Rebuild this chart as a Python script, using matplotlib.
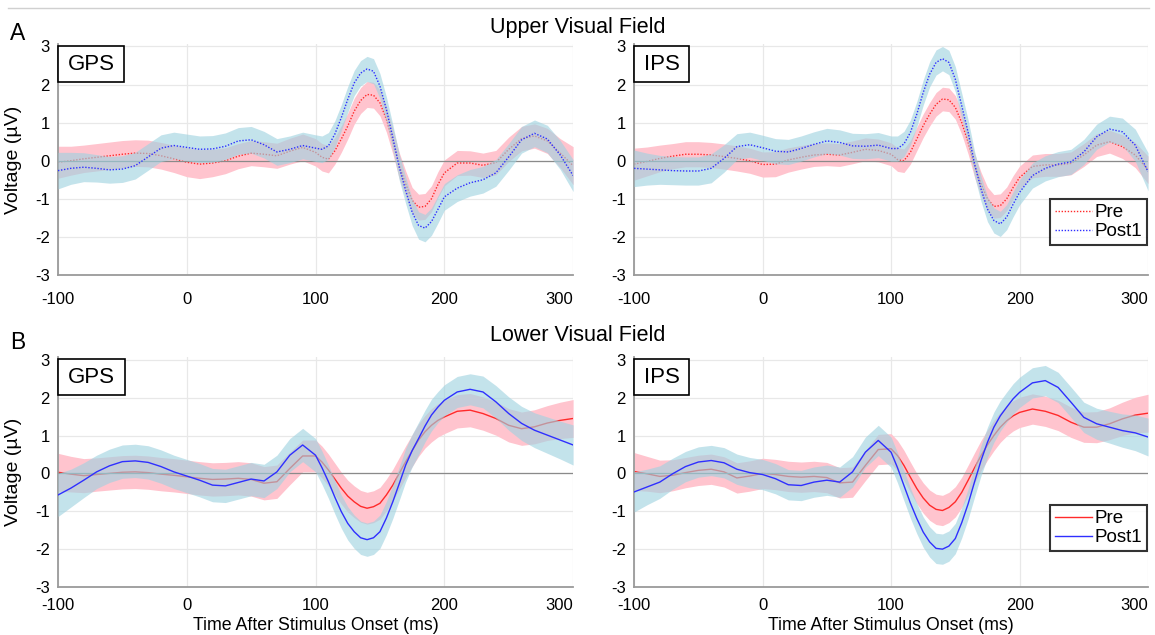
import numpy as np
import matplotlib
matplotlib.use("Agg")
import matplotlib.pyplot as plt
from matplotlib.lines import Line2D
from matplotlib.patches import Rectangle

plt.rcParams['font.family'] = ['Liberation Sans', 'DejaVu Sans']
plt.rcParams['axes.unicode_minus'] = False

# sample times (ms): 10 ms steps, 5 ms steps around the fast deflections
time_ms = [-100, -90, -80, -70, -60, -50, -40, -30, -20, -10,
           0, 10, 20, 30, 40, 50, 60, 70, 80, 90,
           100, 105, 110, 115, 120, 125, 130, 135, 140, 145,
           150, 155, 160, 165, 170, 175, 180, 185, 190, 195,
           200, 210, 220, 230, 240, 250, 260, 270, 280, 290, 300]

# ---- Upper visual field, GPS ----
up_gps_pre = [-0.04, 0.00, 0.05, 0.09, 0.13, 0.17, 0.20, 0.19, 0.13, 0.05,
              -0.04, -0.09, -0.06, 0.00, 0.12, 0.20, 0.17, 0.13, 0.25, 0.35,
              0.22, 0.09, 0.04, 0.26, 0.57, 0.91, 1.30, 1.58, 1.74, 1.72,
              1.52, 1.09, 0.52, -0.13, -0.61, -1.04, -1.22, -1.20, -1.00, -0.63,
              -0.32, -0.06, -0.06, -0.12, -0.05, 0.30, 0.58, 0.65, 0.52, 0.20, -0.13]
up_gps_pre_hw = [0.42, 0.38, 0.36, 0.36, 0.36, 0.36, 0.35, 0.35, 0.35, 0.36,
                 0.38, 0.38, 0.36, 0.34, 0.33, 0.33, 0.33, 0.33, 0.34, 0.35,
                 0.36, 0.36, 0.36, 0.35, 0.35, 0.34, 0.34, 0.34, 0.34, 0.34,
                 0.34, 0.34, 0.34, 0.34, 0.34, 0.34, 0.34, 0.34, 0.34, 0.34,
                 0.34, 0.33, 0.32, 0.32, 0.32, 0.32, 0.32, 0.32, 0.33, 0.38, 0.50]
up_gps_post = [-0.26, -0.20, -0.17, -0.20, -0.24, -0.22, -0.13, 0.10, 0.33, 0.40,
               0.35, 0.30, 0.31, 0.38, 0.52, 0.55, 0.42, 0.23, 0.30, 0.40,
               0.33, 0.30, 0.39, 0.70, 1.13, 1.61, 2.04, 2.30, 2.41, 2.35,
               1.96, 1.35, 0.61, -0.17, -0.78, -1.35, -1.70, -1.77, -1.60, -1.28,
               -0.95, -0.72, -0.58, -0.50, -0.32, 0.10, 0.55, 0.72, 0.57, 0.15, -0.39]
up_gps_post_hw = [0.48, 0.42, 0.38, 0.36, 0.35, 0.35, 0.35, 0.35, 0.35, 0.35,
                  0.35, 0.35, 0.35, 0.35, 0.35, 0.35, 0.35, 0.35, 0.35, 0.35,
                  0.35, 0.35, 0.35, 0.35, 0.34, 0.34, 0.33, 0.33, 0.33, 0.33,
                  0.33, 0.33, 0.34, 0.34, 0.35, 0.35, 0.36, 0.36, 0.36, 0.36,
                  0.35, 0.35, 0.35, 0.35, 0.35, 0.35, 0.35, 0.35, 0.36, 0.38, 0.42]

# ---- Upper visual field, IPS ----
up_ips_pre = [-0.09, -0.02, 0.06, 0.12, 0.17, 0.17, 0.15, 0.11, 0.06, 0.00,
              -0.10, -0.09, 0.02, 0.09, 0.15, 0.17, 0.15, 0.22, 0.30, 0.27,
              0.17, 0.03, 0.00, 0.22, 0.57, 0.92, 1.22, 1.48, 1.62, 1.60,
              1.40, 1.00, 0.48, -0.13, -0.61, -1.00, -1.20, -1.18, -1.00, -0.70,
              -0.44, -0.15, -0.11, -0.11, -0.07, 0.15, 0.41, 0.50, 0.37, 0.15, -0.24]
up_ips_pre_hw = [0.42, 0.38, 0.35, 0.33, 0.33, 0.33, 0.33, 0.33, 0.33, 0.33,
                 0.33, 0.33, 0.32, 0.31, 0.30, 0.30, 0.30, 0.30, 0.30, 0.30,
                 0.30, 0.31, 0.31, 0.31, 0.31, 0.31, 0.31, 0.31, 0.31, 0.31,
                 0.31, 0.31, 0.31, 0.31, 0.31, 0.31, 0.31, 0.31, 0.31, 0.31,
                 0.30, 0.30, 0.30, 0.30, 0.30, 0.30, 0.30, 0.30, 0.31, 0.33, 0.36]
up_ips_post = [-0.20, -0.22, -0.24, -0.26, -0.27, -0.27, -0.20, 0.06, 0.37, 0.42,
               0.34, 0.25, 0.23, 0.32, 0.43, 0.52, 0.48, 0.39, 0.38, 0.41,
               0.32, 0.32, 0.44, 0.74, 1.22, 1.79, 2.27, 2.58, 2.68, 2.58,
               2.14, 1.44, 0.74, -0.09, -0.74, -1.27, -1.57, -1.66, -1.48, -1.14,
               -0.83, -0.39, -0.20, -0.09, -0.03, 0.23, 0.63, 0.83, 0.76, 0.41, -0.29]
up_ips_post_hw = [0.48, 0.42, 0.38, 0.37, 0.37, 0.37, 0.38, 0.36, 0.34, 0.33,
                  0.33, 0.33, 0.33, 0.33, 0.33, 0.33, 0.33, 0.33, 0.33, 0.33,
                  0.33, 0.33, 0.33, 0.33, 0.33, 0.33, 0.33, 0.33, 0.32, 0.32,
                  0.33, 0.33, 0.33, 0.33, 0.33, 0.33, 0.33, 0.33, 0.33, 0.33,
                  0.33, 0.33, 0.33, 0.33, 0.33, 0.33, 0.33, 0.34, 0.36, 0.42, 0.50]

# ---- Lower visual field, GPS ----
lo_gps_pre = [0.03, -0.02, -0.06, -0.03, 0.00, 0.03, 0.04, 0.02, -0.02, -0.05,
              -0.09, -0.13, -0.16, -0.15, -0.13, -0.16, -0.26, -0.22, 0.13, 0.46,
              0.46, 0.30, 0.09, -0.15, -0.39, -0.60, -0.75, -0.87, -0.92, -0.88,
              -0.79, -0.57, -0.31, 0.00, 0.31, 0.60, 0.88, 1.10, 1.27, 1.40,
              1.49, 1.64, 1.67, 1.58, 1.45, 1.27, 1.18, 1.23, 1.33, 1.40, 1.45]
lo_gps_pre_hw = [0.50, 0.47, 0.45, 0.44, 0.44, 0.44, 0.44, 0.44, 0.44, 0.44,
                 0.44, 0.44, 0.44, 0.44, 0.44, 0.44, 0.44, 0.44, 0.43, 0.42,
                 0.42, 0.42, 0.42, 0.42, 0.42, 0.42, 0.42, 0.42, 0.42, 0.42,
                 0.42, 0.42, 0.42, 0.42, 0.42, 0.42, 0.43, 0.43, 0.44, 0.44,
                 0.44, 0.44, 0.44, 0.44, 0.44, 0.44, 0.44, 0.45, 0.46, 0.48, 0.50]
lo_gps_post = [-0.57, -0.39, -0.18, 0.04, 0.20, 0.31, 0.33, 0.29, 0.18, 0.04,
               -0.07, -0.18, -0.31, -0.33, -0.24, -0.15, -0.20, 0.04, 0.48, 0.75,
               0.48, 0.15, -0.22, -0.63, -1.01, -1.32, -1.54, -1.70, -1.75, -1.70,
               -1.54, -1.18, -0.75, -0.27, 0.22, 0.60, 0.92, 1.25, 1.54, 1.75,
               1.93, 2.15, 2.22, 2.15, 1.89, 1.58, 1.32, 1.14, 1.01, 0.88, 0.75]
lo_gps_post_hw = [0.57, 0.50, 0.46, 0.44, 0.44, 0.44, 0.44, 0.44, 0.44, 0.44,
                  0.44, 0.44, 0.44, 0.44, 0.44, 0.44, 0.44, 0.44, 0.44, 0.44,
                  0.44, 0.44, 0.44, 0.44, 0.44, 0.44, 0.44, 0.44, 0.44, 0.44,
                  0.44, 0.44, 0.44, 0.44, 0.44, 0.43, 0.43, 0.42, 0.42, 0.41,
                  0.41, 0.41, 0.41, 0.42, 0.43, 0.44, 0.45, 0.46, 0.48, 0.50, 0.53]

# ---- Lower visual field, IPS ----
lo_ips_pre = [0.05, -0.01, -0.08, -0.05, 0.02, 0.08, 0.11, 0.04, -0.12, -0.07,
              0.00, -0.03, -0.08, -0.10, -0.08, -0.11, -0.25, -0.23, 0.21, 0.63,
              0.65, 0.47, 0.21, -0.10, -0.40, -0.65, -0.84, -0.95, -0.98, -0.90,
              -0.75, -0.50, -0.18, 0.15, 0.47, 0.75, 1.00, 1.22, 1.39, 1.52,
              1.61, 1.70, 1.64, 1.53, 1.35, 1.22, 1.22, 1.31, 1.44, 1.54, 1.59]
lo_ips_pre_hw = [0.50, 0.46, 0.43, 0.41, 0.40, 0.40, 0.40, 0.40, 0.40, 0.40,
                 0.40, 0.40, 0.40, 0.40, 0.40, 0.40, 0.40, 0.40, 0.40, 0.40,
                 0.40, 0.40, 0.40, 0.40, 0.40, 0.40, 0.40, 0.40, 0.40, 0.40,
                 0.40, 0.40, 0.40, 0.40, 0.40, 0.40, 0.40, 0.40, 0.40, 0.40,
                 0.40, 0.40, 0.40, 0.40, 0.40, 0.40, 0.41, 0.42, 0.44, 0.47, 0.50]
lo_ips_post = [-0.49, -0.36, -0.23, -0.01, 0.18, 0.30, 0.34, 0.28, 0.11, 0.02,
               -0.03, -0.14, -0.30, -0.32, -0.23, -0.18, -0.23, 0.04, 0.56, 0.87,
               0.56, 0.15, -0.32, -0.78, -1.19, -1.55, -1.81, -1.98, -2.00, -1.92,
               -1.72, -1.30, -0.80, -0.22, 0.34, 0.82, 1.22, 1.52, 1.75, 1.97,
               2.14, 2.39, 2.45, 2.27, 1.88, 1.48, 1.31, 1.22, 1.13, 1.07, 0.96]
lo_ips_post_hw = [0.53, 0.47, 0.43, 0.41, 0.40, 0.40, 0.40, 0.40, 0.40, 0.40,
                  0.40, 0.40, 0.40, 0.40, 0.40, 0.40, 0.40, 0.40, 0.40, 0.40,
                  0.40, 0.40, 0.40, 0.40, 0.40, 0.40, 0.40, 0.40, 0.40, 0.40,
                  0.40, 0.40, 0.40, 0.40, 0.40, 0.40, 0.40, 0.40, 0.40, 0.40,
                  0.40, 0.40, 0.40, 0.40, 0.40, 0.40, 0.41, 0.42, 0.44, 0.47, 0.50]

x_ticks = [-100, 0, 100, 200, 300]
y_ticks = [-3, -2, -1, 0, 1, 2, 3]

PINK = '#ffc4ce'
LIGHTBLUE = '#9fd2e0'
RED = '#ff2a2a'
BLUE = '#2f2fff'


def draw_panel(ax, pre, pre_hw, post, post_hw, name, box_w, dotted):
    t = np.array(time_ms)
    pre, pre_hw = np.array(pre), np.array(pre_hw)
    post, post_hw = np.array(post), np.array(post_hw)
    ls = (0, (1, 1.2)) if dotted else '-'

    ax.fill_between(t, pre - pre_hw, pre + pre_hw, color=PINK, lw=0, zorder=1)
    ax.plot(t, pre, color=RED, lw=1.0, ls=ls, zorder=2, label='Pre')
    ax.axhline(0, color='#8a8a8a', lw=0.9, zorder=2.5)
    ax.fill_between(t, post - post_hw, post + post_hw, color=LIGHTBLUE,
                    alpha=0.62, lw=0, zorder=3)
    ax.plot(t, post, color=BLUE, lw=1.0, ls=ls, zorder=4, label='Post1')

    ax.set_xlim(-100, 300)
    ax.set_ylim(-3, 3.07)
    ax.set_xticks(x_ticks)
    ax.set_yticks(y_ticks)
    ax.grid(True, color='#e8e8e8', lw=0.9, zorder=0)
    ax.set_axisbelow(True)
    for s in ['top', 'right']:
        ax.spines[s].set_visible(False)
    for s in ['left', 'bottom']:
        ax.spines[s].set_color('#9a9a9a')
        ax.spines[s].set_linewidth(1.3)
    ax.tick_params(length=0, labelsize=12, colors='black')
    ax.tick_params(axis='y', pad=6)
    # last tick label sits inside the axes edge, as in the reference
    ax.get_xticklabels()[-1].set_horizontalalignment('right')

    ax.add_patch(Rectangle((0, 0.835), box_w, 0.155, transform=ax.transAxes,
                           facecolor='white', edgecolor='black', lw=1.2,
                           zorder=6, clip_on=False))
    ax.text(box_w / 2, 0.91, name, transform=ax.transAxes, ha='center',
            va='center', fontsize=16, zorder=7)


fig = plt.figure(figsize=(11.55, 6.35), dpi=100)

# axes placed to match the reference layout (pixel-derived fractions)
ax_ug = fig.add_axes([0.0502, 0.567, 0.446, 0.364])
ax_ui = fig.add_axes([0.549, 0.567, 0.445, 0.364])
ax_lg = fig.add_axes([0.0502, 0.0756, 0.446, 0.362])
ax_li = fig.add_axes([0.549, 0.0756, 0.445, 0.362])

draw_panel(ax_ug, up_gps_pre, up_gps_pre_hw, up_gps_post, up_gps_post_hw, 'GPS', 0.128, True)
draw_panel(ax_ui, up_ips_pre, up_ips_pre_hw, up_ips_post, up_ips_post_hw, 'IPS', 0.107, True)
draw_panel(ax_lg, lo_gps_pre, lo_gps_pre_hw, lo_gps_post, lo_gps_post_hw, 'GPS', 0.130, False)
draw_panel(ax_li, lo_ips_pre, lo_ips_pre_hw, lo_ips_post, lo_ips_post_hw, 'IPS', 0.107, False)

for ax in [ax_ug, ax_ui]:
    ax.tick_params(axis='x', pad=12)
for ax in [ax_lg, ax_li]:
    ax.tick_params(axis='x', pad=8)
    ax.set_xlabel('Time After Stimulus Onset (ms)', fontsize=12.8)
    ax.xaxis.set_label_coords(0.5, -0.13)

for ax in [ax_ug, ax_lg]:
    ax.set_ylabel('Voltage (µV)', fontsize=14)
    ax.yaxis.set_label_coords(-0.07, 0.5)

for ax, bottom in [(ax_ui, 0.13), (ax_li, 0.157)]:
    leg = ax.legend(loc='lower right', bbox_to_anchor=(0.997, bottom),
                    fontsize=13.5, frameon=True, fancybox=False,
                    handlelength=2.0, handletextpad=0.1, borderpad=0.25,
                    labelspacing=0.1, borderaxespad=0)
    leg.get_frame().set_edgecolor('black')
    leg.get_frame().set_linewidth(1.5)
    leg.set_zorder(10)

fig.text(0.5, 0.957, 'Upper Visual Field', ha='center', va='center', fontsize=15.5)
fig.text(0.5, 0.471, 'Lower Visual Field', ha='center', va='center', fontsize=15.5)
fig.text(0.0156, 0.948, 'A', ha='center', va='center', fontsize=16.5)
fig.text(0.0156, 0.461, 'B', ha='center', va='center', fontsize=16.5)
fig.add_artist(Line2D([0.007, 0.995], [0.987, 0.987], color='#d0d0d0', lw=1.0))

fig.savefig('out.png', dpi=100)
